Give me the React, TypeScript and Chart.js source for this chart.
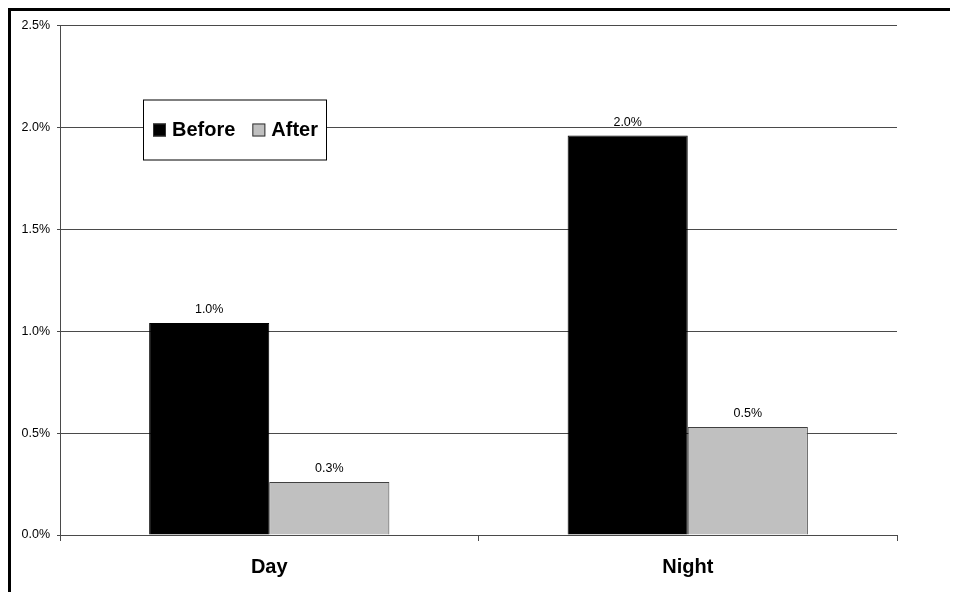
import React, { useEffect, useRef } from "react";
import { Chart, registerables } from "chart.js";

Chart.register(...registerables);

const categories = ["Day", "Night"];
const seriesNames = ["Before", "After"];
const beforeValues = [1.04, 1.96];
const afterValues = [0.26, 0.53];
const yTicks = [0, 0.5, 1.0, 1.5, 2.0, 2.5];

const FONT = "'Liberation Sans', Arial, Helvetica, sans-serif";
const BEFORE_COLOR = "#000000";
const AFTER_COLOR = "#C0C0C0";
const GRID = "#4a4a4a";

const dataLabelPlugin = {
  id: "dataLabels",
  afterDatasetsDraw(chart: any) {
    const ctx = chart.ctx;
    ctx.save();
    ctx.font = `12.5px ${FONT}`;
    ctx.fillStyle = "#000";
    ctx.textAlign = "center";
    ctx.textBaseline = "alphabetic";
    chart.data.datasets.forEach((ds: any, i: number) => {
      const meta = chart.getDatasetMeta(i);
      meta.data.forEach((bar: any, j: number) => {
        const v = ds.data[j] as number;
        ctx.fillText(v.toFixed(1) + "%", bar.x, bar.y - 10);
      });
    });
    ctx.restore();
  },
};

const boxLegendPlugin = {
  id: "boxLegend",
  afterDraw(chart: any) {
    const ctx = chart.ctx;
    const area = chart.chartArea;
    const bx = area.left + 83;
    const by = area.top + 74;
    const bw = 183;
    const bh = 60;
    ctx.save();
    ctx.fillStyle = "#fff";
    ctx.fillRect(bx, by, bw, bh);
    ctx.strokeStyle = "#000";
    ctx.lineWidth = 1;
    ctx.strokeRect(bx + 0.5, by + 0.5, bw, bh);
    ctx.font = `bold 20px ${FONT}`;
    ctx.textBaseline = "middle";
    ctx.textAlign = "left";
    const cy = by + 31;
    let x = bx + 10;
    chart.data.datasets.forEach((ds: any, i: number) => {
      ctx.fillStyle = ds.backgroundColor;
      ctx.fillRect(x, cy - 7, 13, 13);
      ctx.strokeStyle = "#333";
      ctx.strokeRect(x + 0.5, cy - 6.5, 12, 12);
      ctx.fillStyle = "#000";
      const label = seriesNames[i];
      ctx.fillText(label, x + 19, cy);
      x += 19 + ctx.measureText(label).width + 17;
    });
    ctx.restore();
  },
};

export default function App() {
  const ref = useRef<HTMLCanvasElement | null>(null);

  useEffect(() => {
    document.body.style.overflow = "hidden";
    document.documentElement.style.overflow = "hidden";
    if (!ref.current) return;
    const chart = new Chart(ref.current, {
      type: "bar",
      data: {
        labels: categories,
        datasets: [
          {
            label: seriesNames[0],
            data: beforeValues,
            backgroundColor: BEFORE_COLOR,
            borderColor: "#000",
            borderWidth: 1,
            categoryPercentage: 0.574,
            barPercentage: 1.0,
          },
          {
            label: seriesNames[1],
            data: afterValues,
            backgroundColor: AFTER_COLOR,
            borderColor: "#404040",
            borderWidth: 1,
            categoryPercentage: 0.574,
            barPercentage: 1.0,
          },
        ],
      },
      options: {
        animation: false,
        responsive: false,
        devicePixelRatio: 1,
        layout: { padding: { left: 0, top: 13, right: 134, bottom: 26 } },
        plugins: {
          legend: { display: false },
          tooltip: { enabled: false },
        },
        scales: {
          x: {
            grid: {
              display: true,
              offset: true,
              drawOnChartArea: false,
              drawTicks: true,
              tickLength: 6,
              color: GRID,
            },
            border: { display: true, color: GRID, width: 1 },
            ticks: {
              color: "#000",
              padding: 14,
              font: { family: FONT, size: 20, weight: "bold" },
            },
            afterFit(scale: any) {
              scale.height = 50;
            },
          },
          y: {
            min: 0,
            max: 2.5,
            afterBuildTicks(scale: any) {
              scale.ticks = yTicks.map((v) => ({ value: v }));
            },
            grid: {
              color: GRID,
              drawTicks: true,
              tickLength: 3,
            },
            border: { display: true, color: GRID, width: 1 },
            ticks: {
              color: "#000",
              padding: 7,
              font: { family: FONT, size: 12.5 },
              callback: (v: any) => Number(v).toFixed(1) + "%",
            },
            afterFit(scale: any) {
              scale.width = 49;
            },
          },
        },
      },
      plugins: [dataLabelPlugin, boxLegendPlugin],
    } as any);
    return () => chart.destroy();
  }, []);

  return (
    <div style={{ border: "3px solid #000", width: 1020, height: 600, background: "#fff" }}>
      <canvas ref={ref} width={1020} height={600} style={{ display: "block" }} />
    </div>
  );
}
